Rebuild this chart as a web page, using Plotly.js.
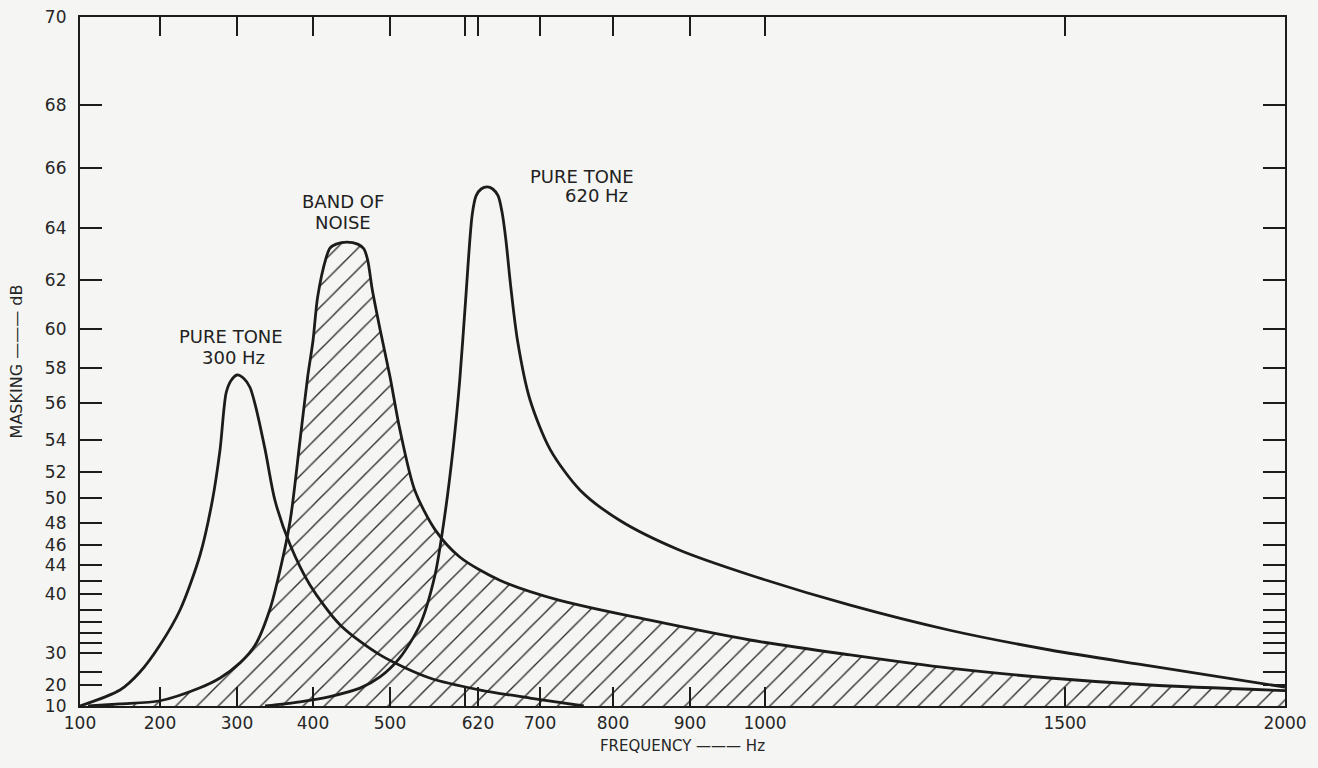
<!DOCTYPE html>
<html>
<head>
<meta charset="utf-8">
<script src="https://cdn.plot.ly/plotly-3.0.1.min.js"></script>
<style>
html,body{margin:0;padding:0;background:#f5f5f3;}
#chart{width:1318px;height:768px;}
</style>
</head>
<body>
<div id="chart"></div>
<script>
// ---------------- DATA (frequency in Hz, masking in dB) ----------------
const tone300Hz = [100, 150, 175, 200, 226, 252, 268, 278, 286, 292.5, 300, 309, 317, 324, 337, 350, 370, 396, 435, 487, 553, 623, 687, 760];
const tone300Db = [10, 17.6, 25, 31.6, 38, 45, 49.8, 53.4, 56.6, 57.3, 57.6, 57.4, 56.9, 55.9, 53.4, 49.8, 46, 41.4, 35.5, 29.5, 22.7, 17.6, 13.8, 10];

const noiseHz = [110, 150, 200, 252, 278, 304, 324, 343, 357, 370, 383, 393, 400, 406, 417, 422, 430, 444, 458, 466, 471, 477, 487, 500, 513, 533, 560, 593, 648, 727, 848, 980, 1142, 1308, 1475, 1693, 2000];
const noiseDb = [10, 11, 12.5, 18.7, 22.7, 27.4, 31.6, 38, 43.5, 48.2, 54, 57.5, 59.4, 61.3, 62.85, 63.23, 63.38, 63.46, 63.38, 63.2, 62.77, 61.6, 60, 57.5, 54.6, 50.6, 47.4, 44.8, 42.1, 39.2, 36.3, 32.6, 29.5, 26, 22.7, 20, 17.3];

const tone620Hz = [337, 383, 422, 461, 487, 513, 540, 560, 573, 584, 593, 601, 611, 617, 624, 632, 639, 646, 651, 656, 662, 671, 687, 714, 755, 809, 886, 980, 1142, 1308, 1475, 1693, 2000];
const tone620Db = [10, 12, 14.5, 18.5, 23.1, 28.7, 35.5, 42.75, 48.6, 53.4, 57.3, 61.2, 64.43, 65.07, 65.3, 65.37, 65.3, 65.07, 64.53, 63.54, 61.8, 59.4, 56.2, 53.4, 50.6, 48.2, 45.5, 42.75, 38.6, 34.5, 30.6, 26.6, 19];

// tick values / labels
const xTickHz   = [100, 200, 300, 400, 500, 600, 620, 700, 800, 900, 1000, 1500, 2000];
const xTickText = ['100', '200', '300', '400', '500', '', '620', '700', '800', '900', '1000', '1500', '2000'];
const yTickDb   = [10, 20, 25, 30, 32, 34, 36, 38, 40, 42, 44, 46, 48, 50, 52, 54, 56, 58, 60, 62, 64, 66, 68, 70];
const yTickText = ['10', '20', '', '30', '', '', '', '', '40', '', '44', '46', '48', '50', '52', '54', '56', '58', '60', '62', '64', '66', '68', '70'];

// ---------------- AXIS SCALE CALIBRATION (the chart's non-linear axes) ----------------
const xScaleHz  = [100, 200, 300, 400, 500, 600, 620, 700, 800, 900, 1000, 1500, 2000];
const xScalePos = [0, 80, 157, 233, 310, 385, 398, 460, 533, 610, 685, 985, 1205];
const yScaleDb  = [10, 20, 25, 30, 32, 34, 36, 38, 40, 42, 44, 46, 48, 50, 52, 54, 56, 58, 60, 62, 64, 66, 68, 70];
const yScalePos = [0, 21, 34, 53, 63, 73, 84, 96, 112, 125, 141, 161, 183, 208, 234, 266, 303, 338, 377, 426, 478, 538, 601, 689];

function interp(v, dom, rng) {
  if (v <= dom[0]) return rng[0] + (v - dom[0]) * (rng[1] - rng[0]) / (dom[1] - dom[0]);
  for (let i = 1; i < dom.length; i++) {
    if (v <= dom[i]) return rng[i-1] + (v - dom[i-1]) * (rng[i] - rng[i-1]) / (dom[i] - dom[i-1]);
  }
  const n = dom.length - 1;
  return rng[n] + (v - dom[n]) * (rng[n] - rng[n-1]) / (dom[n] - dom[n-1]);
}
const fx = hz => interp(hz, xScaleHz, xScalePos);
const fy = db => interp(db, yScaleDb, yScalePos);

const ink = '#1c1c1c';
const font = 'DejaVu Sans, Verdana, sans-serif';

const curveLine = {color: ink, width: 2.8, shape: 'spline', smoothing: 0.8};

const traces = [
  {
    name: 'Band of noise',
    x: noiseHz.map(fx), y: noiseDb.map(fy),
    customdata: noiseHz, text: noiseDb.map(String),
    mode: 'lines', line: curveLine,
    fill: 'tozeroy', fillcolor: 'rgba(0,0,0,0)',
    fillpattern: {shape: '/', size: 15, solidity: 0.09, fgcolor: '#2a2a2a', bgcolor: 'rgba(0,0,0,0)', fillmode: 'replace'},
    hovertemplate: '%{customdata} Hz: %{text} dB<extra>Band of noise</extra>'
  },
  {
    name: 'Pure tone 300 Hz',
    x: tone300Hz.map(fx), y: tone300Db.map(fy),
    customdata: tone300Hz, text: tone300Db.map(String),
    mode: 'lines', line: curveLine,
    hovertemplate: '%{customdata} Hz: %{text} dB<extra>Pure tone 300 Hz</extra>'
  },
  {
    name: 'Pure tone 620 Hz',
    x: tone620Hz.map(fx), y: tone620Db.map(fy),
    customdata: tone620Hz, text: tone620Db.map(String),
    mode: 'lines', line: curveLine,
    hovertemplate: '%{customdata} Hz: %{text} dB<extra>Pure tone 620 Hz</extra>'
  }
];

const labelFont = {family: font, size: 18, color: '#222'};
function label(text, hz, db) {
  return {text: text, x: fx(hz), y: fy(db), xref: 'x', yref: 'y', showarrow: false,
          xanchor: 'center', yanchor: 'middle', font: labelFont};
}

const layout = {
  width: 1318, height: 768,
  margin: {l: 80, r: 33, t: 17, b: 62},
  paper_bgcolor: '#f5f5f3', plot_bgcolor: '#f5f5f3',
  showlegend: false,
  xaxis: {
    range: [0, 1205], fixedrange: true,
    tickmode: 'array', tickvals: xTickHz.map(fx), ticktext: xTickText,
    ticks: 'inside', ticklen: 19, tickwidth: 1.5, tickcolor: ink,
    showline: true, linewidth: 2.2, linecolor: ink, mirror: 'ticks',
    showgrid: false, zeroline: false,
    tickfont: {family: font, size: 17, color: '#262626'},
    title: {text: 'FREQUENCY ——— Hz', font: {family: font, size: 15, color: '#262626'}, standoff: 9}
  },
  yaxis: {
    range: [0, 689], fixedrange: true,
    tickmode: 'array', tickvals: yTickDb.map(fy), ticktext: yTickText,
    ticks: 'inside', ticklen: 22, tickwidth: 1.5, tickcolor: ink,
    showline: true, linewidth: 2.2, linecolor: ink, mirror: 'ticks',
    showgrid: false, zeroline: false,
    ticklabelstandoff: 8,
    tickfont: {family: font, size: 17, color: '#262626'},
    title: {text: 'MASKING ——— dB', font: {family: font, size: 16, color: '#262626'}, standoff: 18}
  },
  annotations: [
    label('PURE TONE', 292, 59.64),
    label('300 Hz', 296, 58.56),
    label('BAND OF', 439, 64.87),
    label('NOISE', 439, 64.2),
    label('PURE TONE', 757, 65.73),
    label('620 Hz', 778, 65.07)
  ]
};

Plotly.newPlot('chart', traces, layout, {displayModeBar: false});
</script>
</body>
</html>
